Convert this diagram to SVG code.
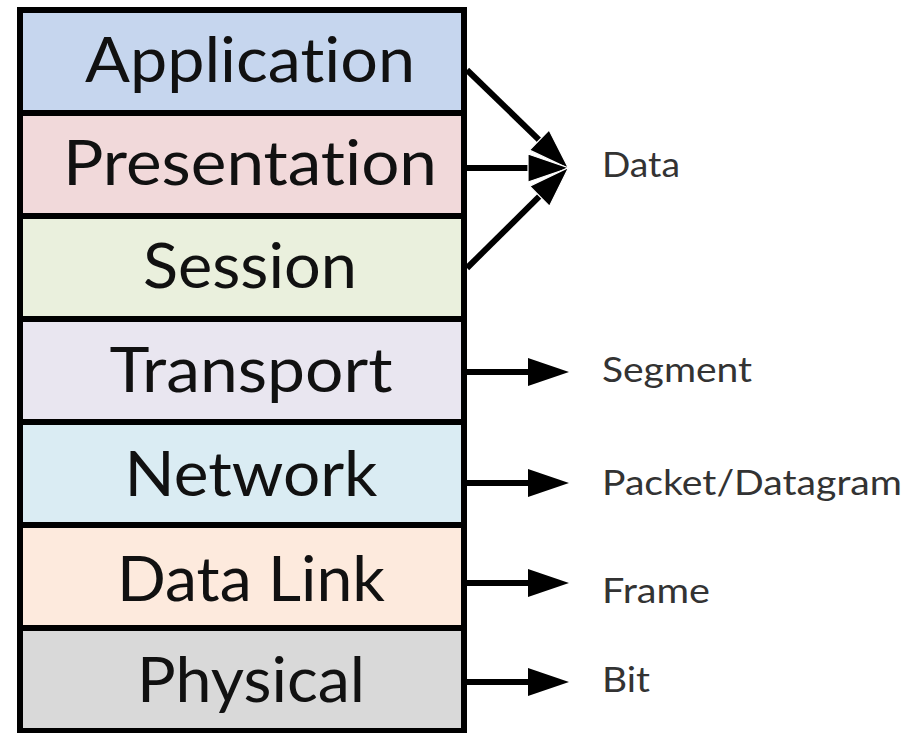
<svg xmlns="http://www.w3.org/2000/svg" width="914" height="733" viewBox="0 0 914 733">
<style>
.layer rect{stroke:#000;stroke-width:6}
.layer text{font-family:Lato,"Open Sans","Liberation Sans",sans-serif;font-size:62px;fill:#111;text-anchor:middle;font-variant-ligatures:none}
.lbl{font-family:Lato,"Open Sans","Liberation Sans",sans-serif;font-size:35px;fill:#333;font-variant-ligatures:none}
.conn line{stroke:#000;stroke-width:6}
</style>
<defs>
<marker id="ah" markerUnits="userSpaceOnUse" markerWidth="42" markerHeight="30" refX="0" refY="14" orient="auto" viewBox="0 0 42 30">
<path d="M0,0 L41,14 L0,28 z" fill="#000"/>
</marker>
<marker id="ahw" markerUnits="userSpaceOnUse" markerWidth="44" markerHeight="32" refX="1" refY="15" orient="auto" viewBox="0 0 44 32">
<path d="M1,1 L42,15 L1,29 z" fill="#000" stroke="#fff" stroke-width="1.2"/>
</marker>
</defs>
<rect width="914" height="733" fill="#fff"/>
<g id="application" class="layer"><rect x="20" y="10" width="444" height="103" fill="#c6d6ee"/><text x="250" y="82" textLength="330" lengthAdjust="spacingAndGlyphs">Application</text></g>
<g id="presentation" class="layer"><rect x="20" y="113" width="444" height="103" fill="#f1d9da"/><text x="250" y="185" textLength="374" lengthAdjust="spacingAndGlyphs">Presentation</text></g>
<g id="session" class="layer"><rect x="20" y="216" width="444" height="103" fill="#eaf0dd"/><text x="250" y="288" textLength="214" lengthAdjust="spacingAndGlyphs">Session</text></g>
<g id="transport" class="layer"><rect x="20" y="319" width="444" height="103" fill="#e9e6f0"/><text x="251" y="392" textLength="283" lengthAdjust="spacingAndGlyphs">Transport</text></g>
<g id="network" class="layer"><rect x="20" y="422" width="444" height="103" fill="#daecf3"/><text x="251" y="496" textLength="253" lengthAdjust="spacingAndGlyphs">Network</text></g>
<g id="datalink" class="layer"><rect x="20" y="525" width="444" height="103" fill="#fdeadd"/><text x="251" y="601" textLength="268" lengthAdjust="spacingAndGlyphs">Data Link</text></g>
<g id="physical" class="layer"><rect x="20" y="628" width="444" height="103" fill="#d9d9d9"/><text x="251" y="702" textLength="228" lengthAdjust="spacingAndGlyphs">Physical</text></g>
<g id="connectors" class="conn">
<line x1="467" y1="70" x2="539.3" y2="140.1" marker-end="url(#ahw)"/>
<line x1="467" y1="168" x2="528" y2="168" marker-end="url(#ahw)"/>
<line x1="467" y1="268" x2="539.6" y2="196.2" marker-end="url(#ahw)"/>
<line x1="467" y1="372" x2="528" y2="372" marker-end="url(#ah)"/>
<line x1="467" y1="483" x2="528" y2="483" marker-end="url(#ah)"/>
<line x1="467" y1="583" x2="528" y2="583" marker-end="url(#ah)"/>
<line x1="467" y1="682" x2="528" y2="682" marker-end="url(#ah)"/>
</g>
<g id="labels">
<text class="lbl" x="602" y="177" textLength="78" lengthAdjust="spacingAndGlyphs">Data</text>
<text class="lbl" x="602" y="382" textLength="150" lengthAdjust="spacingAndGlyphs">Segment</text>
<text class="lbl" x="602" y="495" textLength="300" lengthAdjust="spacingAndGlyphs">Packet/Datagram</text>
<text class="lbl" x="602" y="603" textLength="108" lengthAdjust="spacingAndGlyphs">Frame</text>
<text class="lbl" x="602" y="692" textLength="48" lengthAdjust="spacingAndGlyphs">Bit</text>
</g>
</svg>
